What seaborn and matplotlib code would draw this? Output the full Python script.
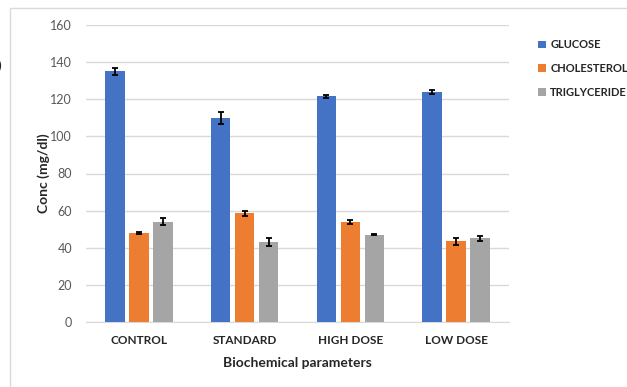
import matplotlib
matplotlib.use("Agg")
import matplotlib.pyplot as plt
import seaborn as sns
import pandas as pd
import numpy as np

groups = ["CONTROL", "STANDARD", "HIGH DOSE", "LOW DOSE"]
series = ["GLUCOSE", "CHOLESTEROL", "TRIGLYCERIDE"]
glucose = [135, 110, 121.5, 124]
cholesterol = [48, 58.5, 54, 43.5]
triglyceride = [54, 43, 47, 45]
glucose_err = [2, 3.2, 1, 1]
cholesterol_err = [0.4, 1.5, 1.2, 2]
triglyceride_err = [1.8, 2.2, 0.4, 1.3]

colors = ["#4472C4", "#ED7D31", "#A5A5A5"]

df = pd.DataFrame({
    "group": groups * 3,
    "series": np.repeat(series, len(groups)),
    "value": glucose + cholesterol + triglyceride,
    "err": glucose_err + cholesterol_err + triglyceride_err,
})

sns.set_style("white")
plt.rcParams["font.family"] = ["Lato", "DejaVu Sans"]

fig = plt.figure(figsize=(6.27, 3.87), dpi=100)
ax = fig.add_axes([86 / 627, 1 - 322 / 387, (509 - 86) / 627, (322 - 25) / 387])

sns.barplot(data=df, x="group", y="value", hue="series", palette=colors,
            saturation=1, width=0.68, gap=0.18, linewidth=0,
            errorbar=None, ax=ax, zorder=3)

# error bars at bar centres
for cont, s in zip(ax.containers, series):
    sub = df[df.series == s]
    xs = [p.get_x() + p.get_width() / 2 for p in cont.patches]
    ax.errorbar(xs, sub["value"], yerr=sub["err"], fmt="none", ecolor="black",
                elinewidth=1.3, capsize=2.5, capthick=1.3, zorder=4)

ax.set_ylim(0, 160)
ax.set_xlim(-0.5, 3.5)
ax.set_yticks(range(0, 161, 20))
ax.yaxis.grid(True, color="#D9D9D9", linewidth=1, zorder=0)
for sp in ["top", "right", "left"]:
    ax.spines[sp].set_visible(False)
ax.spines["bottom"].set_color("#D9D9D9")
ax.tick_params(axis="y", labelsize=9, colors="#595959", length=0, pad=10)
ax.tick_params(axis="x", labelsize=8.5, length=0, pad=9)
for t in ax.get_xticklabels():
    t.set_fontweight("bold")
    t.set_color("#262626")

ax.set_xlabel("Biochemical parameters", fontsize=10, fontweight="bold", color="#262626", labelpad=8)
ax.set_ylabel("Conc (mg/dl)", fontsize=10, fontweight="bold", color="#262626", labelpad=0)

leg = ax.legend(loc="upper left", bbox_to_anchor=(1.045, 0.985), frameon=False,
                fontsize=8, handlelength=0.7, handleheight=0.7,
                handletextpad=0.4, labelspacing=1.15)
for t in leg.get_texts():
    t.set_fontweight("bold")
    t.set_color("#262626")

# chart border and stray label fragment at left edge
fig.patches.append(plt.Rectangle((10 / 627, -0.05), 1.0, 1 - 8 / 387 + 0.05,
                                 transform=fig.transFigure, fill=False,
                                 edgecolor="#D9D9D9", linewidth=1))
fig.text(-0.004, 1 - 66 / 387, ")", fontsize=10, va="center", color="#262626")

fig.savefig("out.png", dpi=100)
